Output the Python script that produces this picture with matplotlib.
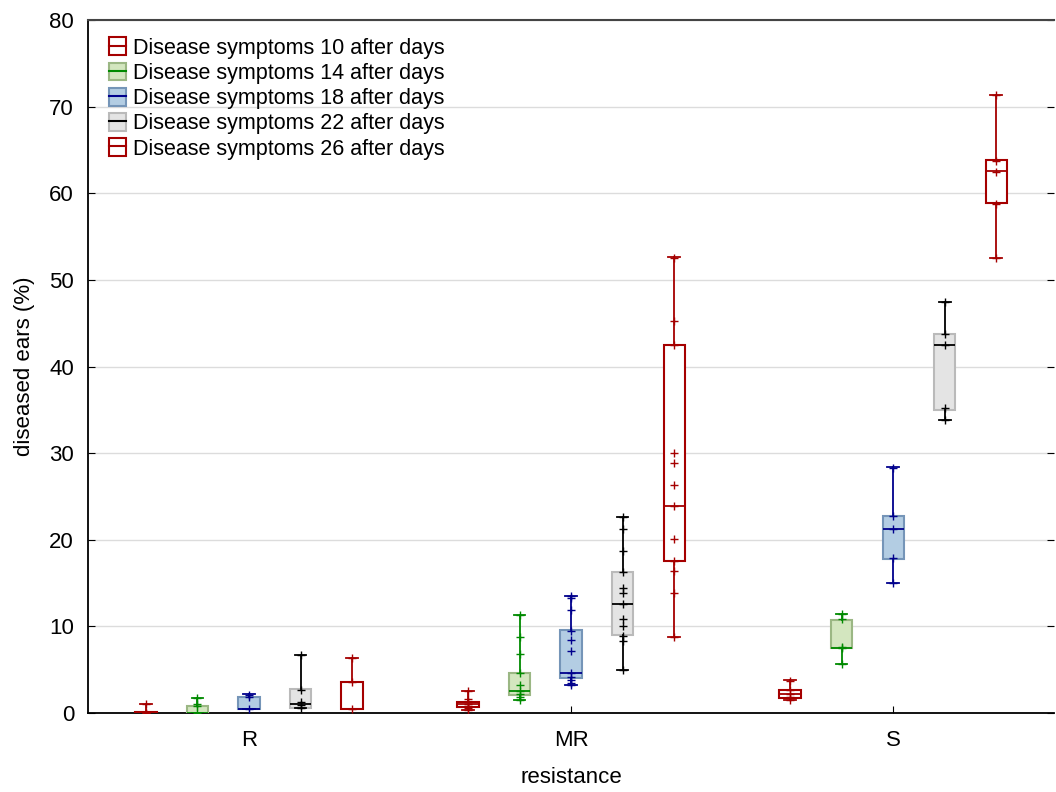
import matplotlib
matplotlib.use('Agg')
import matplotlib.pyplot as plt
from matplotlib.patches import Patch
from matplotlib.lines import Line2D
import numpy as np

plt.rcParams['font.family'] = ['Liberation Sans', 'DejaVu Sans']

# 数据 (读自图片)
groups = ['R', 'MR', 'S']
days = [10, 14, 18, 22, 26]

# 每个系列 [R, MR, S]
q1_vals = [[0.0, 0.7, 1.75], [0.0, 2.1, 7.55], [0.5, 4.0, 17.8], [0.55, 9.0, 35.0], [0.5, 17.6, 58.9]]
med_vals = [[0.0, 1.0, 2.2], [0.0, 2.6, 7.55], [0.5, 4.6, 21.3], [1.1, 12.6, 42.5], [0.5, 23.9, 62.6]]
q3_vals = [[0.1, 1.3, 2.7], [0.8, 4.6, 10.75], [1.8, 9.6, 22.7], [2.8, 16.3, 43.8], [3.6, 42.5, 63.8]]
lo_vals = [[0.0, 0.4, 1.5], [0.0, 1.5, 5.7], [0.5, 3.2, 15.0], [0.55, 5.0, 33.8], [0.5, 8.8, 52.5]]
hi_vals = [[1.0, 2.6, 3.8], [1.7, 11.3, 11.4], [2.2, 13.5, 28.4], [6.7, 22.6, 47.5], [6.3, 52.6, 71.4]]

points_10 = [[0, 0, 1.0], [2.5, 1.6, 1.3, 1.0, 0.8, 0.6, 0.4], [3.7, 2.7, 2.2, 1.8, 1.5]]
points_14 = [[1.7, 1.1, 0.8, 0], [11.3, 8.8, 6.8, 4.6, 3.2, 2.6, 2.2, 1.8, 1.5], [11.4, 10.9, 7.6, 7.5, 5.7]]
points_18 = [[2.1, 1.8, 0.5], [13.5, 13.3, 11.9, 9.5, 8.4, 7.2, 4.6, 4.2, 3.8, 3.5, 3.2],
             [28.3, 22.7, 21.3, 17.9, 15.0]]
points_22 = [[6.7, 2.7, 1.3, 0.9, 0.6], [22.6, 21.2, 18.7, 16.3, 14.4, 13.9, 12.6, 10.8, 10.0, 8.9, 8.3, 5.0],
             [47.5, 43.7, 42.5, 35.2, 33.8]]
points_26 = [[6.3, 3.6, 0.5], [52.5, 45.2, 42.5, 30.0, 28.9, 26.3, 23.9, 20.1, 17.6, 16.4, 13.9, 8.8],
             [71.3, 63.7, 62.5, 58.8, 52.5]]
points_all = [points_10, points_14, points_18, points_22, points_26]

# 样式
line_colors = ['#a50000', '#008a00', '#00008c', '#000000', '#a50000']
fill_colors = ['white', '#d3e6bf', '#b3cde3', '#e4e4e4', 'white']
edge_colors = ['#a50000', '#9bb784', '#7595b8', '#bababa', '#a50000']
offsets = [-0.32, -0.16, 0.0, 0.16, 0.32]
box_w = 0.066

fig = plt.figure(figsize=(10.56, 7.92), dpi=100)
ax = fig.add_axes([0.0833, 0.0997, 0.915, 0.875])

base = np.arange(1, len(groups) + 1)
for i, d in enumerate(days):
    stats = []
    for g in range(len(groups)):
        stats.append(dict(med=med_vals[i][g], q1=q1_vals[i][g], q3=q3_vals[i][g],
                          whislo=lo_vals[i][g], whishi=hi_vals[i][g], fliers=[]))
    pos = base + offsets[i]
    ax.bxp(stats, positions=pos, widths=box_w, patch_artist=True, showfliers=False,
           capwidths=box_w * 0.55,
           boxprops=dict(facecolor=fill_colors[i], edgecolor=edge_colors[i], linewidth=1.5),
           medianprops=dict(color=line_colors[i], linewidth=1.3),
           whiskerprops=dict(color=line_colors[i], linewidth=1.3),
           capprops=dict(color=line_colors[i], linewidth=1.3),
           manage_ticks=False, zorder=3)
    for g in range(len(groups)):
        pts = points_all[i][g]
        ax.plot([pos[g]] * len(pts), pts, '+', color=line_colors[i], ms=6, mew=1.0, zorder=4)

ax.set_xlim(0.5, 3.5)
ax.set_ylim(0, 80)
ax.set_yticks(np.arange(0, 81, 10))
ax.set_xticks(base)
ax.set_xticklabels(groups)
ax.yaxis.grid(True, color='#dcdcdc', linewidth=1)
ax.set_axisbelow(True)
ax.tick_params(direction='in', length=5, labelsize=16, right=True)
ax.tick_params(axis='x', pad=12)
ax.tick_params(axis='y', pad=10)
ax.spines['top'].set_color('#444444')
ax.spines['top'].set_linewidth(1.5)
ax.spines['right'].set_visible(False)
for s in ['left', 'bottom']:
    ax.spines[s].set_linewidth(1.3)

ax.set_xlabel('resistance', fontsize=16, labelpad=12)
ax.set_ylabel('diseased ears (%)', fontsize=16)
ax.yaxis.set_label_coords(-0.055, 0.5)

handles = []
labels = []
for i, d in enumerate(days):
    h = (Patch(facecolor=fill_colors[i], edgecolor=edge_colors[i], linewidth=1.5),
         Line2D([], [], color=line_colors[i], linewidth=1.5))
    handles.append(h)
    labels.append(f'Disease symptoms {d} after days')
ax.legend(handles, labels, loc='upper left', bbox_to_anchor=(0.002, 1.003), frameon=False,
          fontsize=15.5, handlelength=0.8, handleheight=0.9, handletextpad=0.3,
          labelspacing=0.18, borderaxespad=0.5)

fig.savefig('out.png', dpi=100)
